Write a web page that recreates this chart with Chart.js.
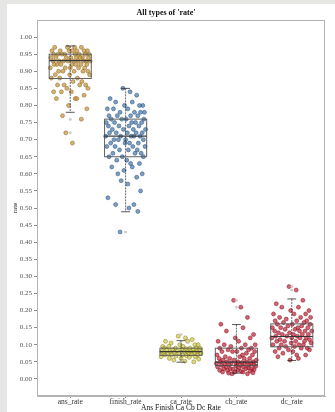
<!DOCTYPE html>
<html>
<head>
<meta charset="utf-8">
<script src="https://cdn.jsdelivr.net/npm/chart.js@4/dist/chart.umd.min.js"></script>
<style>
  html,body{margin:0;padding:0;background:#fff;}
  body{width:335px;height:412px;position:relative;overflow:hidden;}
  #stripL{position:absolute;left:0;top:0;width:7px;height:412px;background:#e6e6e4;}
  #stripT{position:absolute;left:0;top:0;width:335px;height:4px;background:#e6e6e4;}
  #card{position:absolute;left:7px;top:4px;width:328px;height:408px;background:#fff;}
  canvas{display:block;}
</style>
</head>
<body>
<div id="stripL"></div><div id="stripT"></div>
<div id="card"><canvas id="c" width="328" height="408"></canvas></div>
<script>
// ---- data ----
const CATEGORIES = ['ans_rate','finish_rate','ca_rate','cb_rate','dc_rate'];
const Y_TICKS = [0,0.05,0.10,0.15,0.20,0.25,0.30,0.35,0.40,0.45,0.50,0.55,0.60,0.65,0.70,0.75,0.80,0.85,0.90,0.95,1.00];

const ANS_RATE = [0.97,0.97,0.97,0.97,0.96,0.96,0.96,0.96,0.96,0.96,0.96,0.95,0.95,0.95,0.95,0.95,0.95,0.95,0.95,0.94,0.94,0.94,0.94,0.94,0.94,0.94,0.94,0.93,0.93,0.93,0.93,0.93,0.93,0.93,0.93,0.93,0.92,0.92,0.92,0.92,0.92,0.92,0.92,0.91,0.91,0.91,0.91,0.91,0.90,0.90,0.90,0.90,0.90,0.89,0.89,0.89,0.88,0.88,0.88,0.87,0.87,0.86,0.86,0.86,0.86,0.85,0.85,0.84,0.84,0.84,0.83,0.82,0.82,0.82,0.80,0.79,0.77,0.76,0.72,0.69];
const FINISH_RATE = [0.85,0.84,0.83,0.82,0.81,0.81,0.80,0.80,0.80,0.79,0.79,0.79,0.78,0.78,0.78,0.78,0.77,0.77,0.77,0.77,0.76,0.76,0.76,0.76,0.75,0.75,0.75,0.75,0.75,0.74,0.74,0.74,0.74,0.73,0.73,0.73,0.73,0.72,0.72,0.72,0.72,0.72,0.71,0.71,0.71,0.71,0.71,0.70,0.70,0.70,0.70,0.69,0.69,0.69,0.69,0.68,0.68,0.68,0.68,0.67,0.67,0.67,0.66,0.66,0.66,0.65,0.65,0.65,0.64,0.64,0.63,0.63,0.62,0.62,0.61,0.60,0.60,0.59,0.58,0.57,0.55,0.53,0.51,0.51,0.50,0.49,0.43];
const CA_RATE = [0.125,0.12,0.115,0.11,0.11,0.105,0.10,0.10,0.10,0.095,0.095,0.095,0.09,0.09,0.09,0.09,0.09,0.088,0.085,0.085,0.085,0.085,0.083,0.082,0.08,0.08,0.08,0.08,0.08,0.08,0.078,0.077,0.075,0.075,0.075,0.075,0.073,0.072,0.07,0.07,0.07,0.07,0.068,0.067,0.065,0.065,0.063,0.06,0.06,0.058,0.055,0.052,0.05];
const CB_RATE = [0.23,0.21,0.18,0.16,0.15,0.14,0.13,0.12,0.12,0.11,0.11,0.10,0.10,0.10,0.095,0.09,0.09,0.09,0.085,0.085,0.08,0.08,0.08,0.08,0.075,0.07,0.07,0.07,0.065,0.065,0.06,0.06,0.06,0.06,0.055,0.055,0.055,0.05,0.05,0.05,0.05,0.05,0.048,0.047,0.045,0.045,0.045,0.044,0.043,0.042,0.04,0.04,0.04,0.04,0.038,0.037,0.035,0.035,0.035,0.033,0.032,0.03,0.03,0.03,0.03,0.028,0.027,0.025,0.025,0.025,0.023,0.022,0.02,0.02,0.02,0.018,0.017,0.015,0.015];
const DC_RATE = [0.27,0.26,0.23,0.22,0.21,0.21,0.20,0.20,0.19,0.19,0.19,0.18,0.18,0.18,0.175,0.17,0.17,0.17,0.165,0.165,0.16,0.16,0.16,0.155,0.155,0.15,0.15,0.15,0.15,0.145,0.145,0.14,0.14,0.14,0.14,0.135,0.135,0.13,0.13,0.13,0.13,0.125,0.125,0.125,0.12,0.12,0.12,0.12,0.115,0.115,0.11,0.11,0.11,0.11,0.105,0.105,0.10,0.10,0.10,0.10,0.095,0.095,0.09,0.09,0.09,0.085,0.085,0.08,0.08,0.075,0.07,0.07,0.065,0.06,0.055];

// horizontal jitter of the strip points (category units)
const JITTER = [-0.05,0.08,0.20,-0.28,0.12,-0.18,0.31,-0.02,0.25,-0.33,0.04,-0.22,0.16,0.34,-0.10,0.27,-0.30,0.09,-0.15,0.22,0.01,-0.26,0.33,-0.07,0.18,-0.35,0.11,0.29,-0.20,0.06,-0.12,0.24,-0.31,0.14,0.36,-0.04,-0.24,0.19,0.03,-0.17,0.30,-0.29,0.10,-0.09,0.26,-0.36,0.15,0.00,-0.21,0.32,-0.13,0.07,0.23,-0.27,-0.01,0.35,-0.19,0.13,-0.34,0.21,0.05,-0.11,0.28,-0.23,0.17,-0.06,0.32,-0.30,0.02,-0.16,0.25,0.09,-0.25,0.12,-0.03,0.30,-0.14,0.20,-0.08,0.04,0.27,-0.32,0.15,-0.18,0.06,0.22,-0.10,0.33];

const Q1      = [0.879,0.650,0.069,0.039,0.094];
const MEDIAN  = [0.931,0.710,0.080,0.049,0.124];
const Q3      = [0.950,0.760,0.090,0.090,0.161];
const WHISK_LO= [0.780,0.489,0.049,0.017,0.054];
const WHISK_HI= [0.974,0.850,0.112,0.159,0.234];
const FLIERS  = [[0.76,0.72],[0.43],[0.13],[0.23,0.21],[0.27,0.26]];

const SERIES = [ANS_RATE, FINISH_RATE, CA_RATE, CB_RATE, DC_RATE];
const FILLS  = ['rgba(196,150,62,0.72)','rgba(74,122,170,0.72)','rgba(205,196,60,0.65)','rgba(196,40,58,0.72)','rgba(196,40,58,0.72)'];
const EDGES  = ['rgba(140,100,30,0.85)','rgba(40,80,125,0.85)','rgba(130,125,20,0.85)','rgba(130,20,35,0.85)','rgba(130,20,35,0.85)'];

const datasets = SERIES.map((vals, ci) => ({
  label: CATEGORIES[ci],
  data: vals.map((v, i) => ({x: ci + JITTER[i % JITTER.length], y: v})),
  backgroundColor: FILLS[ci],
  borderColor: EDGES[ci],
  borderWidth: 0.6,
  pointRadius: 2,
  pointHoverRadius: 2
}));
datasets.unshift({
  label: 'fliers',
  data: FLIERS.flatMap((arr, ci) => arr.map(v => ({x: ci, y: v}))),
  backgroundColor: 'rgba(195,195,195,0.8)',
  borderColor: 'rgba(195,195,195,0.8)',
  borderWidth: 0,
  pointRadius: 1.5
});

const boxPlugin = {
  id: 'boxes',
  afterDatasetsDraw(chart) {
    const {ctx, scales: {x, y}, chartArea} = chart;
    ctx.save();
    const half = 0.38, cap = 0.08;
    for (let i = 0; i < CATEGORIES.length; i++) {
      const cx = x.getPixelForValue(i);
      const xl = x.getPixelForValue(i - half), xr = x.getPixelForValue(i + half);
      const yq1 = y.getPixelForValue(Q1[i]), yq3 = y.getPixelForValue(Q3[i]);
      const ym = y.getPixelForValue(MEDIAN[i]);
      const ylo = y.getPixelForValue(WHISK_LO[i]), yhi = y.getPixelForValue(WHISK_HI[i]);
      const cw = x.getPixelForValue(i + cap) - cx;
      ctx.strokeStyle = 'rgba(30,30,30,0.75)';
      ctx.lineWidth = 0.9;
      ctx.setLineDash([2, 1]);
      ctx.beginPath(); ctx.moveTo(cx, yhi); ctx.lineTo(cx, ylo); ctx.stroke();
      ctx.setLineDash([]);
      ctx.lineWidth = 1;
      ctx.beginPath();
      ctx.moveTo(cx - cw, yhi); ctx.lineTo(cx + cw, yhi);
      ctx.moveTo(cx - cw, ylo); ctx.lineTo(cx + cw, ylo);
      ctx.stroke();
      ctx.strokeStyle = 'rgba(80,80,80,0.9)';
      ctx.lineWidth = 1;
      ctx.strokeRect(xl, yq3, xr - xl, yq1 - yq3);
      ctx.strokeStyle = 'rgba(50,50,50,0.95)';
      ctx.lineWidth = 1.2;
      ctx.beginPath(); ctx.moveTo(xl, ym); ctx.lineTo(xr, ym); ctx.stroke();
    }
    ctx.strokeStyle = '#b4b4b4';
    ctx.lineWidth = 1;
    ctx.strokeRect(chartArea.left + 0.5, chartArea.top + 0.5, chartArea.width - 1, chartArea.height - 1);
    ctx.restore();
  }
};

const serif = '"Liberation Serif","DejaVu Serif",serif';
new Chart(document.getElementById('c'), {
  type: 'scatter',
  data: {datasets},
  options: {
    responsive: false,
    animation: false,
    events: [],
    layout: {padding: {left: 0, right: 10, top: 0, bottom: 0}},
    plugins: {
      legend: {display: false},
      tooltip: {enabled: false},
      title: {
        display: true,
        text: "All types of 'rate'",
        color: '#111',
        font: {family: serif, size: 8, weight: 'bold', lineHeight: 1},
        padding: {top: 5, bottom: 3}
      }
    },
    scales: {
      x: {
        type: 'linear',
        min: -0.6, max: 4.6,
        afterBuildTicks: s => { s.ticks = CATEGORIES.map((_, i) => ({value: i})); },
        afterFit: s => { s.height = 16; },
        ticks: {
          callback: v => CATEGORIES[v],
          color: '#333',
          font: {family: serif, size: 7.5, lineHeight: 1},
          padding: 0,
          maxRotation: 0,
          autoSkip: false
        },
        grid: {drawOnChartArea: false, drawTicks: true, tickLength: 2, color: '#888'},
        border: {display: true, color: '#b4b4b4'},
        title: {display: true, text: 'Ans Finish Ca Cb Dc Rate', color: '#111',
                font: {family: serif, size: 7.5, lineHeight: 1}, padding: {top: 0, bottom: 0}}
      },
      y: {
        type: 'linear',
        min: -0.05, max: 1.05,
        afterBuildTicks: s => { s.ticks = Y_TICKS.map(v => ({value: v})); },
        afterFit: s => { s.width = 30; },
        ticks: {
          callback: v => Number(v).toFixed(2),
          color: '#555',
          font: {family: serif, size: 7, lineHeight: 1},
          padding: 2
        },
        grid: {drawOnChartArea: false, drawTicks: true, tickLength: 3, color: '#888'},
        border: {display: true, color: '#b4b4b4'},
        title: {display: true, text: 'rate', color: '#111',
                font: {family: serif, size: 7, lineHeight: 1}, padding: {top: 5, bottom: 0}}
      }
    }
  },
  plugins: [boxPlugin]
});
</script>
</body>
</html>
